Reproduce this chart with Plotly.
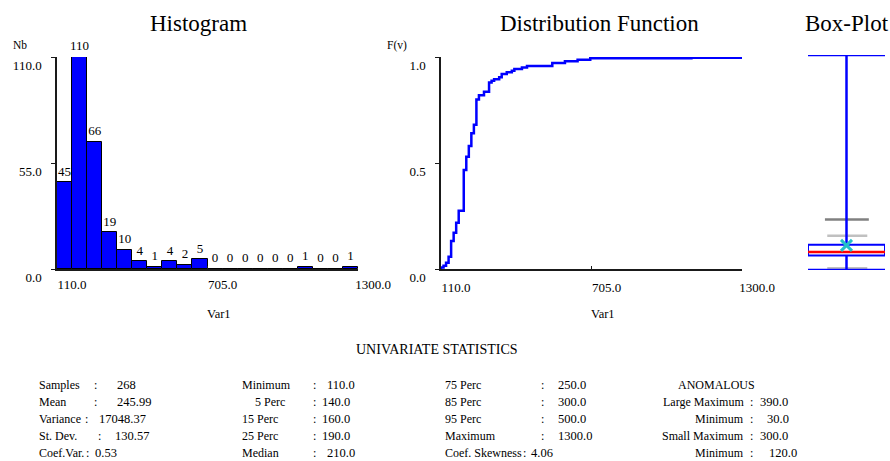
import plotly.graph_objects as go

# ---------------- data ----------------
hist_counts = [45, 110, 66, 19, 10, 4, 1, 4, 2, 5, 0, 0, 0, 0, 0, 0, 1, 0, 0, 1]
var_min, var_max = 110.0, 1300.0
hist_x_ticks = [110.0, 705.0, 1300.0]
hist_x_ticktext = ["110.0", "705.0", "1300.0"]
hist_y_ticks = [0.0, 55.0, 110.0]
hist_y_ticktext = ["0.0", "55.0", "110.0"]

ecdf_values = [110, 110, 120, 130, 140, 150, 160, 170, 180, 200, 210, 220, 230, 240, 250,
               260, 280, 300, 310, 320, 340, 350, 370, 390, 400, 430, 450, 550, 600, 650,
               700, 1100, 1300]
ecdf_probs = [0.0, 0.007, 0.015, 0.030, 0.058, 0.132, 0.171, 0.218, 0.275, 0.467, 0.530,
              0.580, 0.640, 0.680, 0.800, 0.820, 0.836, 0.880, 0.888, 0.895, 0.904, 0.920,
              0.928, 0.935, 0.943, 0.950, 0.958, 0.972, 0.980, 0.987, 0.994, 0.997, 1.0]
cdf_y_ticks = [0.0, 0.5, 1.0]
cdf_y_ticktext = ["0.0", "0.5", "1.0"]

box_minimum = 110.0
box_q1 = 190.0
box_median = 210.0
box_q3 = 250.0
box_maximum = 1300.0
box_mean = 245.99
anom_large_max = 390.0
anom_large_min = 30.0
anom_small_max = 300.0
anom_small_min = 120.0

stats_col1_labels = ["Samples", "Mean", "Variance", "St. Dev.", "Coef.Var."]
stats_col1_values = ["268", "245.99", "17048.37", "130.57", "0.53"]
stats_col2_labels = ["Minimum", "5 Perc", "15 Perc", "25 Perc", "Median"]
stats_col2_values = ["110.0", "140.0", "160.0", "190.0", "210.0"]
stats_col3_labels = ["75 Perc", "85 Perc", "95 Perc", "Maximum", "Coef. Skewness"]
stats_col3_values = ["250.0", "300.0", "500.0", "1300.0", "4.06"]
stats_col4_labels = ["Large Maximum", "Minimum", "Small Maximum", "Minimum"]
stats_col4_values = ["390.0", "30.0", "300.0", "120.0"]

# ---------------- layout helpers (pixel geometry) ----------------
W, H = 890, 461
SERIF = "Liberation Serif"
BLUE = "#0000FF"
AX = "#1a1a1a"


def fx(p):
    return p / W


def fy(p):
    return 1 - p / H


n_bins = len(hist_counts)
bin_w = (var_max - var_min) / n_bins
centers = [var_min + (i + 0.5) * bin_w for i in range(n_bins)]

fig = go.Figure()

# Histogram
fig.add_trace(go.Bar(x=centers, y=hist_counts, width=bin_w,
                     marker=dict(color=BLUE, line=dict(color="black", width=1)),
                     xaxis="x", yaxis="y", showlegend=False, hoverinfo="x+y"))
fig.add_trace(go.Scatter(x=centers, y=hist_counts, mode="markers+text",
                         marker=dict(size=4, opacity=0),
                         text=[str(c) for c in hist_counts], textposition="top center",
                         textfont=dict(family=SERIF, size=13, color="black"),
                         xaxis="x", yaxis="y", showlegend=False, hoverinfo="skip",
                         cliponaxis=False))

# Distribution function
fig.add_trace(go.Scatter(x=ecdf_values, y=ecdf_probs, mode="lines", line_shape="hv",
                         line=dict(color=BLUE, width=2.5), xaxis="x2", yaxis="y2",
                         showlegend=False, cliponaxis=False))

# Box plot (drawn on its own value axis)
GRAY_D = "#808080"
GRAY_L = "#c0c0c0"
fig.add_trace(go.Scatter(x=[0.22, 0.79], y=[anom_large_max] * 2, mode="lines",
                         line=dict(color=GRAY_D, width=2.5), xaxis="x3", yaxis="y3",
                         showlegend=False, cliponaxis=False))
fig.add_trace(go.Scatter(x=[0.25, 0.77], y=[anom_small_max] * 2, mode="lines",
                         line=dict(color=GRAY_L, width=2.5), xaxis="x3", yaxis="y3",
                         showlegend=False, cliponaxis=False))
fig.add_trace(go.Scatter(x=[0.25, 0.77], y=[anom_small_min] * 2, mode="lines",
                         line=dict(color=GRAY_L, width=2.5), xaxis="x3", yaxis="y3",
                         showlegend=False, cliponaxis=False))
fig.add_trace(go.Scatter(x=[0.5, 0.5], y=[box_minimum, box_maximum], mode="lines",
                         line=dict(color=BLUE, width=2.5), xaxis="x3", yaxis="y3",
                         showlegend=False, cliponaxis=False))
for v in (box_minimum, box_maximum):
    fig.add_trace(go.Scatter(x=[0.0, 1.0], y=[v, v], mode="lines",
                             line=dict(color=BLUE, width=2.5), xaxis="x3", yaxis="y3",
                             showlegend=False, cliponaxis=False))
fig.add_trace(go.Scatter(x=[0, 1, 1, 0, 0], y=[box_q1, box_q1, box_q3, box_q3, box_q1],
                         mode="lines", fill="toself", fillcolor="white",
                         line=dict(color=BLUE, width=2), xaxis="x3", yaxis="y3",
                         showlegend=False, cliponaxis=False))
fig.add_trace(go.Scatter(x=[0.0, 1.0], y=[box_median] * 2, mode="lines",
                         line=dict(color="#ff0000", width=2.5), xaxis="x3", yaxis="y3",
                         showlegend=False, cliponaxis=False))
fig.add_trace(go.Scatter(x=[0.5], y=[box_mean], mode="markers",
                         marker=dict(symbol="x-thin", size=11,
                                     line=dict(width=3, color="#22c0c8")),
                         xaxis="x3", yaxis="y3", showlegend=False, cliponaxis=False))

tickfont = dict(family=SERIF, size=13, color="black")
plot_top, plot_bot = 57, 269

common_x = dict(showline=True, linecolor=AX, linewidth=1.5, ticks="inside", ticklen=3,
                tickcolor=AX, showgrid=False, zeroline=False, tickfont=tickfont,
                ticklabelshift=15, fixedrange=True, automargin=False)
common_y = dict(showline=True, linecolor=AX, linewidth=1.5, ticks="outside", ticklen=4,
                tickcolor=AX, showgrid=False, zeroline=False, tickfont=tickfont,
                ticklabelshift=8, ticklabelstandoff=7, fixedrange=True, automargin=False)

fig.update_layout(
    width=W, height=H, margin=dict(l=0, r=0, t=0, b=0, autoexpand=False),
    paper_bgcolor="white", plot_bgcolor="white",
    bargap=0,
    xaxis=dict(domain=[fx(57), fx(358)], range=[var_min, var_max],
               tickvals=hist_x_ticks, ticktext=hist_x_ticktext, anchor="y",
               ticklabelstandoff=3, **common_x),
    yaxis=dict(domain=[fy(plot_bot), fy(plot_top)], range=[0, max(hist_counts)],
               tickvals=hist_y_ticks, ticktext=hist_y_ticktext, anchor="x", **common_y),
    xaxis2=dict(domain=[fx(441), fx(742)], range=[var_min, var_max],
                tickvals=hist_x_ticks, ticktext=hist_x_ticktext, anchor="y2",
                ticklabelstandoff=6, **common_x),
    yaxis2=dict(domain=[fy(plot_bot), fy(plot_top)], range=[0, 1],
                tickvals=cdf_y_ticks, ticktext=cdf_y_ticktext, anchor="x2", **common_y),
    xaxis3=dict(domain=[fx(808), fx(885)], range=[0, 1], visible=False, anchor="y3",
                fixedrange=True, automargin=False),
    yaxis3=dict(domain=[fy(plot_bot + 1), fy(plot_top - 2)], range=[var_min, var_max],
                visible=False, anchor="x3", fixedrange=True, automargin=False),
)

ann = []


def text(x, y, s, size=12, xanchor="left", family=SERIF):
    ann.append(dict(x=fx(x), y=fy(y), xref="paper", yref="paper", text=s,
                    showarrow=False, xanchor=xanchor, yanchor="middle",
                    font=dict(family=family, size=size, color="black")))


VAL = 12.5

# titles
text(198, 24, "Histogram", size=23, xanchor="center")
text(599, 24, "Distribution Function", size=23, xanchor="center")
text(847, 24, "Box-Plot", size=23, xanchor="center")
# axis names
text(11, 45, "Nb", size=11.5)
text(385, 45, "F(v)", size=11.5)
text(219, 314, "Var1", size=12.5, xanchor="center")
text(603, 314, "Var1", size=12.5, xanchor="center")

# statistics block
text(437, 349, "UNIVARIATE STATISTICS", size=14, xanchor="center")
rows = [385, 402, 419, 436, 452.5]

c1_colon = [95, 95, 86, 99, 87]
c1_val = [115, 115, 97, 113, 93]
for i, (lab, val) in enumerate(zip(stats_col1_labels, stats_col1_values)):
    text(37, rows[i], lab)
    text(c1_colon[i], rows[i], ":", xanchor="center")
    text(c1_val[i], rows[i], val, size=VAL)

c2_lab = [240, 253, 240, 240, 240]
c2_val = [325, 320, 320, 320, 325]
for i, (lab, val) in enumerate(zip(stats_col2_labels, stats_col2_values)):
    text(c2_lab[i], rows[i], lab)
    text(314, rows[i], ":", xanchor="center")
    text(c2_val[i], rows[i], val, size=VAL)

c3_colon = [542, 542, 542, 542, 524]
c3_val = [556, 556, 556, 556, 529]
for i, (lab, val) in enumerate(zip(stats_col3_labels, stats_col3_values)):
    text(443, rows[i], lab)
    text(c3_colon[i], rows[i], ":", xanchor="center")
    text(c3_val[i], rows[i], val, size=VAL)

text(716, rows[0], "ANOMALOUS", xanchor="center")
c4_val = [758, 765, 758, 767]
for i, (lab, val) in enumerate(zip(stats_col4_labels, stats_col4_values)):
    text(746, rows[i + 1], lab, xanchor="right")
    text(751, rows[i + 1], ":", xanchor="center")
    text(c4_val[i], rows[i + 1], val, size=VAL)

fig.update_layout(annotations=ann)

fig.write_html("out.html")
